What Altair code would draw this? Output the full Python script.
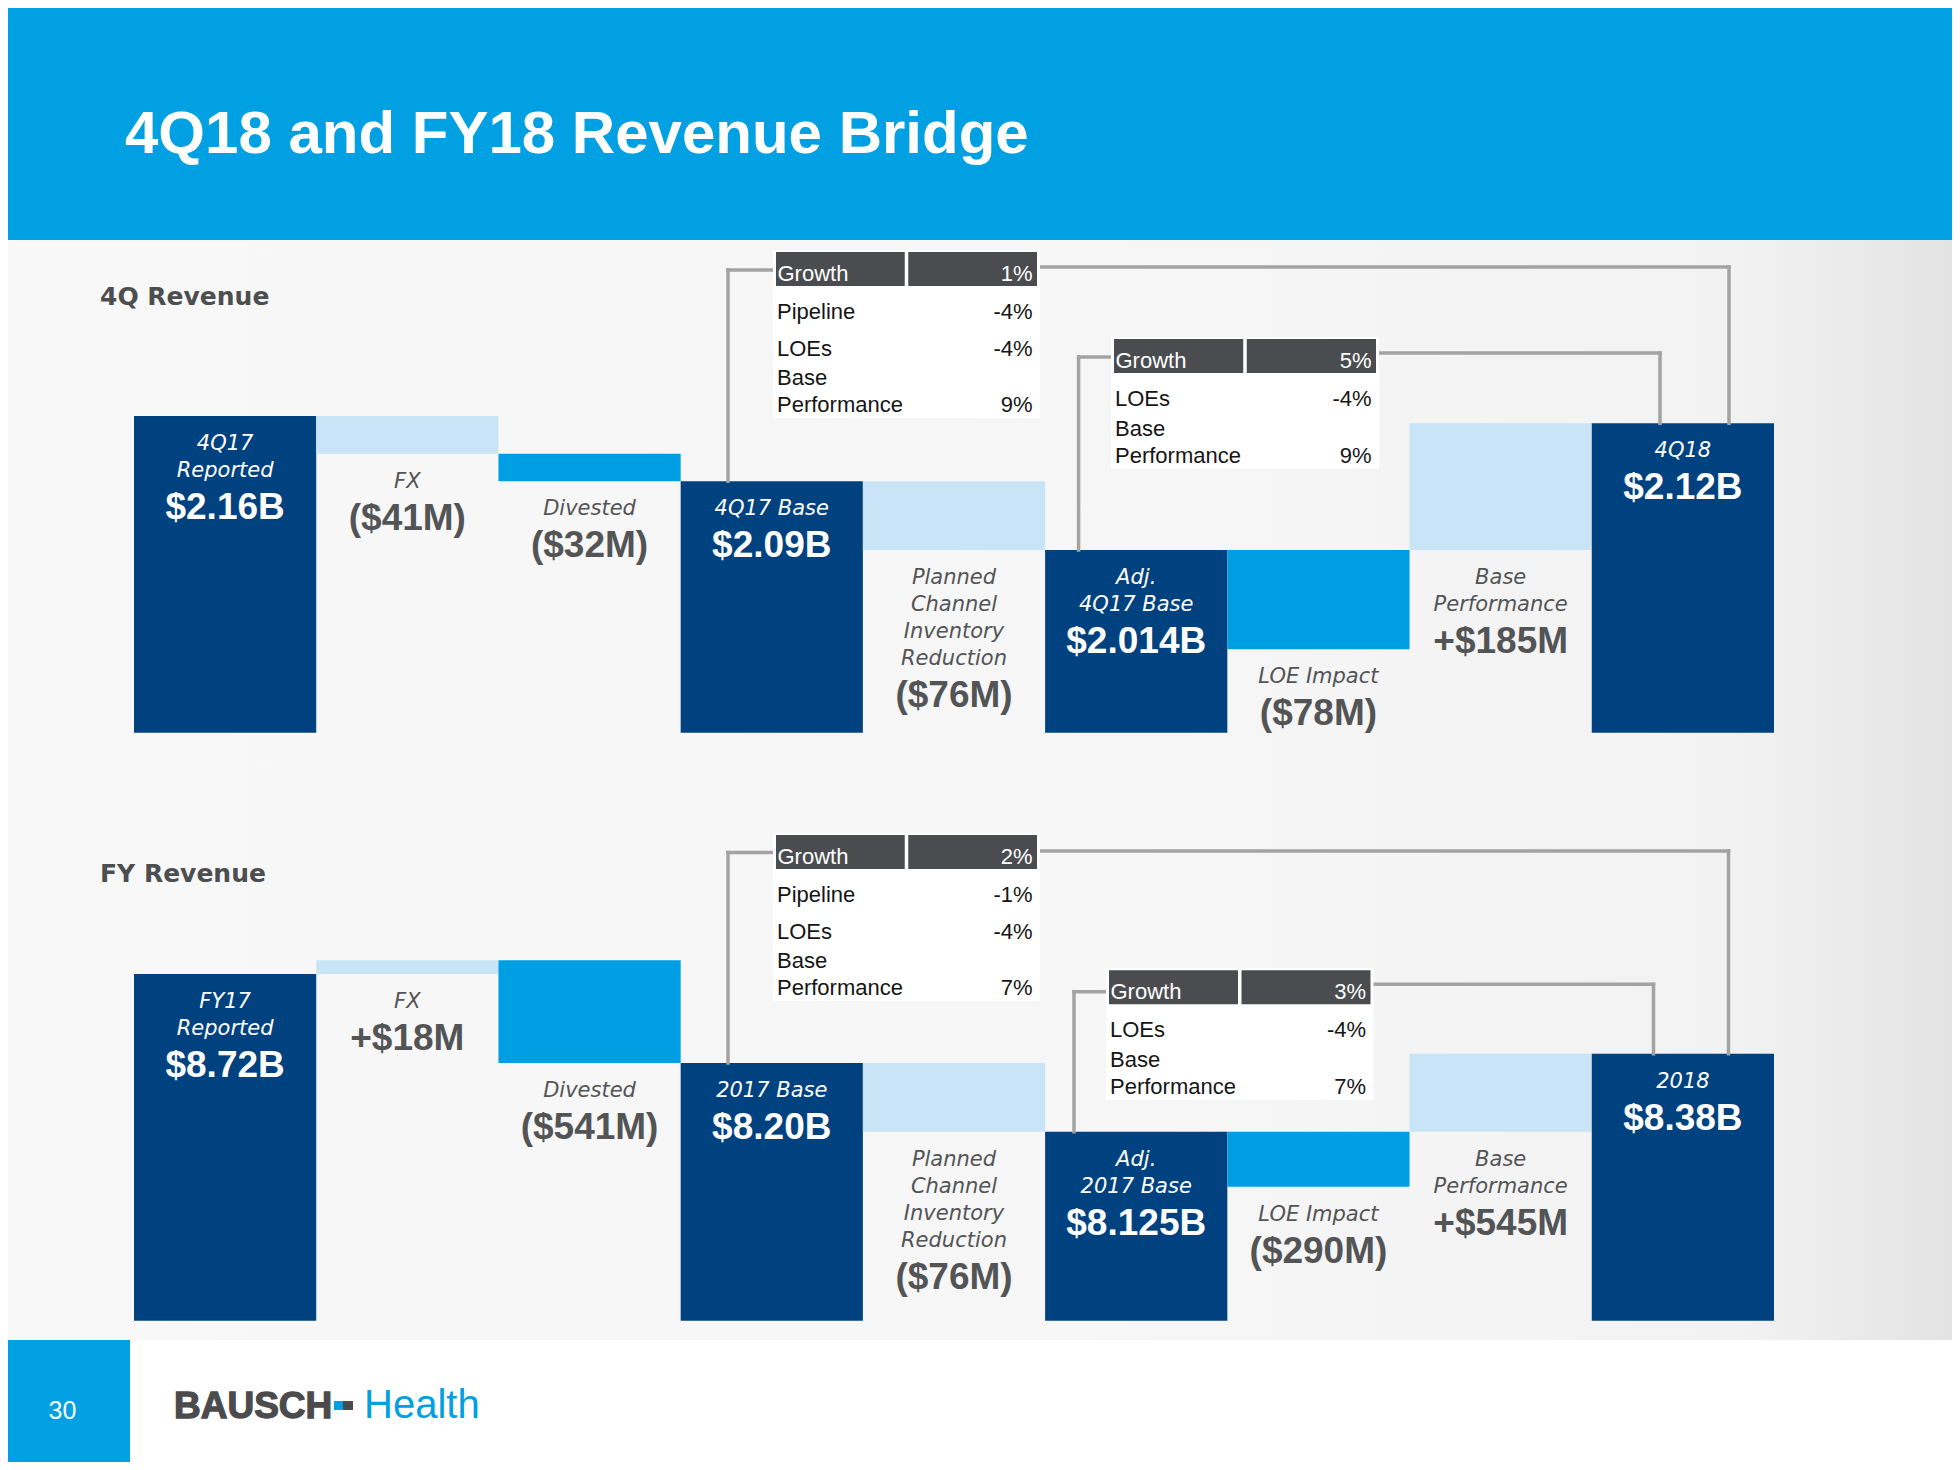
import altair as alt
import pandas as pd

# ---------------- data ----------------
title_text = "4Q18 and FY18 Revenue Bridge"
section_4q = "4Q Revenue"
section_fy = "FY Revenue"
page_number = "30"
logo_left = "BAUSCH"
logo_right = "Health"

q4_categories = ["4Q17 Reported", "FX", "Divested", "4Q17 Base",
                 "Planned Channel Inventory Reduction", "Adj. 4Q17 Base",
                 "LOE Impact", "Base Performance", "4Q18"]
q4_label_lines = ["4Q17\nReported", "FX", "Divested", "4Q17 Base",
                  "Planned\nChannel\nInventory\nReduction", "Adj.\n4Q17 Base",
                  "LOE Impact", "Base\nPerformance", "4Q18"]
q4_value_text = ["$2.16B", "($41M)", "($32M)", "$2.09B", "($76M)",
                 "$2.014B", "($78M)", "+$185M", "$2.12B"]
q4_kind = ["total", "adjustment", "structural", "total", "adjustment",
           "total", "structural", "adjustment", "total"]
# bar levels ($M) as drawn on the slide (the bridge is drawn schematically;
# LOE Impact and Base Performance both start from the adjusted base)
q4_bar_from = [1815, 2160, 2119, 1815, 2089, 1815, 2014, 2014, 1815]
q4_bar_to = [2160, 2119, 2089, 2089, 2014, 2014, 1906, 2152, 2152]
q4_domain = [1815, 2160]

fy_categories = ["FY17 Reported", "FX", "Divested", "2017 Base",
                 "Planned Channel Inventory Reduction", "Adj. 2017 Base",
                 "LOE Impact", "Base Performance", "2018"]
fy_label_lines = ["FY17\nReported", "FX", "Divested", "2017 Base",
                  "Planned\nChannel\nInventory\nReduction", "Adj.\n2017 Base",
                  "LOE Impact", "Base\nPerformance", "2018"]
fy_value_text = ["$8.72B", "+$18M", "($541M)", "$8.20B", "($76M)",
                 "$8.125B", "($290M)", "+$545M", "$8.38B"]
fy_kind = ["total", "adjustment", "structural", "total", "adjustment",
           "total", "structural", "adjustment", "total"]
fy_bar_from = [8342, 8720, 8735, 8342, 8623, 8342, 8548, 8548, 8342]
fy_bar_to = [8720, 8735, 8623, 8623, 8548, 8548, 8488, 8633, 8633]
fy_domain = [8342, 8720]

growth_header = "Growth"
q4_t1_total, q4_t1_rows, q4_t1_vals = "1%", ["Pipeline", "LOEs", "Base\nPerformance"], ["-4%", "-4%", "9%"]
q4_t2_total, q4_t2_rows, q4_t2_vals = "5%", ["LOEs", "Base\nPerformance"], ["-4%", "9%"]
fy_t1_total, fy_t1_rows, fy_t1_vals = "2%", ["Pipeline", "LOEs", "Base\nPerformance"], ["-1%", "-4%", "7%"]
fy_t2_total, fy_t2_rows, fy_t2_vals = "3%", ["LOEs", "Base\nPerformance"], ["-4%", "7%"]

# ---------------- styling / layout ----------------
OFF = 8
W, H = 1944, 1454


def P(v):
    return v - OFF


NAVY = "#00427f"
MID = "#009fe3"
LIGHT = "#c8e4f6"
HEADER_BLUE = "#00a0e3"
CELL = "#4a4c4f"
LINE = "#a3a3a3"
TEXTGRAY = "#535456"
SANS = "Liberation Sans, Arial, sans-serif"
WIDE = "DejaVu Sans, sans-serif"

kind_scale = alt.Scale(domain=["total", "adjustment", "structural"], range=[NAVY, LIGHT, MID])
X_RANGE = [P(134), P(1774)]
Q4_RANGE = [P(732.7), P(416)]
FY_RANGE = [P(1320.7), P(974)]


def ypix(v, dom, rng):
    return rng[0] + (v - dom[0]) / (dom[1] - dom[0]) * (rng[1] - rng[0])


def bridge_layers(cats, lines, vals, kinds, b_from, b_to, dom, rng):
    df = pd.DataFrame({"cat": cats, "label": lines, "value": vals, "kind": kinds,
                       "from": b_from, "to": b_to})
    df["anchor"] = [t if k == "total" else min(f, t) for f, t, k in zip(b_from, b_to, kinds)]
    df["nlines"] = [s.count("\n") + 1 for s in lines]
    xs = alt.Scale(domain=cats, range=X_RANGE, paddingInner=0, paddingOuter=0)
    ys = alt.Scale(domain=dom, range=rng, nice=False, zero=False)
    X = alt.X("cat:N", scale=xs, axis=None)
    tcol = alt.condition(alt.datum.kind == "total", alt.value("#ffffff"), alt.value(TEXTGRAY))
    out = [
        alt.Chart(df).mark_bar().encode(
            x=X, y=alt.Y("from:Q", scale=ys, axis=None), y2="to:Q",
            color=alt.Color("kind:N", scale=kind_scale, legend=None)),
        alt.Chart(df).mark_text(font=WIDE, fontStyle="italic", fontSize=21, baseline="top",
                                dy=17, lineBreak="\n", lineHeight=27, align="center").encode(
            x=X, y=alt.Y("anchor:Q", scale=ys, axis=None), text="label:N", color=tcol),
    ]
    for n in sorted(set(df["nlines"])):
        out.append(
            alt.Chart(df).transform_filter(alt.datum.nlines == int(n)).mark_text(
                font=SANS, fontWeight="bold", fontSize=37, baseline="middle",
                dy=38 + 27 * int(n), align="center").encode(
                x=X, y=alt.Y("anchor:Q", scale=ys, axis=None), text="value:N", color=tcol))
    return out


# tables (annotation boxes)
boxes, cells, hdr_l, hdr_r, row_l, row_r = [], [], [], [], [], []


def add_table(left, right, top, total, labels, values):
    left, right, top = P(left), P(right), P(top)
    mid = (left + right) / 2
    cells.append({"x": left, "x2": mid - 1.75, "y": top, "y2": top + 34})
    cells.append({"x": mid + 1.75, "x2": right, "y": top, "y2": top + 34})
    hdr_l.append({"x": left + 1.5, "y": top + 29, "t": growth_header})
    hdr_r.append({"x": right - 4.5, "y": top + 29, "t": total})
    y = None
    for lab, val in zip(labels, values):
        parts = lab.split("\n")
        for j, part in enumerate(parts):
            if y is None:
                y = top + 67
            elif j == 0:
                y += 36.5 if len(parts) == 1 else 29.5
            else:
                y += 27
            row_l.append({"x": left + 1, "y": y, "t": part})
        row_r.append({"x": right - 4.5, "y": y, "t": val})
    boxes.append({"x": left - 3, "x2": right + 3, "y": top - 2, "y2": y + 6})


add_table(776, 1037, 252, q4_t1_total, q4_t1_rows, q4_t1_vals)
add_table(1114, 1376, 339, q4_t2_total, q4_t2_rows, q4_t2_vals)
add_table(776, 1037, 835, fy_t1_total, fy_t1_rows, fy_t1_vals)
add_table(1109, 1370.5, 970.3, fy_t2_total, fy_t2_rows, fy_t2_vals)

# connector brackets
segs = []


def path(points):
    pts = [(P(a), b) for a, b in points]
    for (x1, y1), (x2, y2) in zip(pts[:-1], pts[1:]):
        segs.append({"x": x1, "y": y1, "x2": x2, "y2": y2})


q = lambda v: ypix(v, q4_domain, Q4_RANGE)
f = lambda v: ypix(v, fy_domain, FY_RANGE)
path([(728, q(q4_bar_to[3])), (728, P(270)), (776, P(270))])
path([(1037, P(267)), (1729, P(267)), (1729, q(q4_bar_to[8]))])
path([(1078.6, q(q4_bar_to[5])), (1078.6, P(357)), (1114, P(357))])
path([(1376, P(353)), (1660, P(353)), (1660, q(q4_bar_to[8]))])
path([(728, f(fy_bar_to[3])), (728, P(852.5)), (776, P(852.5))])
path([(1037, P(851)), (1728.5, P(851)), (1728.5, f(fy_bar_to[8]))])
path([(1074, f(fy_bar_to[5])), (1074, P(991.7)), (1109, P(991.7))])
path([(1370.5, P(984.3)), (1653.5, P(984.3)), (1653.5, f(fy_bar_to[8]))])

one = pd.DataFrame({"t": [""]})
NX = lambda fld: alt.X(fld, scale=None, axis=None)
NY = lambda fld: alt.Y(fld, scale=None, axis=None)

grad = alt.LinearGradient(gradient="linear", x1=0, x2=1, y1=0, y2=0, stops=[
    alt.GradientStop(offset=0, color="#f8f8f8"),
    alt.GradientStop(offset=0.6, color="#f6f6f6"),
    alt.GradientStop(offset=0.89, color="#f2f2f2"),
    alt.GradientStop(offset=1, color="#e3e3e3")])


def rect(x, x2, y, y2, color):
    return alt.Chart(one).mark_rect(color=color).encode(
        x=alt.value(x), x2=alt.value(x2), y=alt.value(y), y2=alt.value(y2))


def label(text, x, y, **kw):
    return alt.Chart(pd.DataFrame({"t": [text]})).mark_text(**kw).encode(
        x=alt.value(x), y=alt.value(y), text="t:N")


layers = [
    rect(0, W, 0, H, grad),
    rect(0, W, 0, P(240), HEADER_BLUE),
    rect(0, W, P(1340), H, "#ffffff"),
    rect(0, P(130), P(1340), H, HEADER_BLUE),
    label(title_text, P(125), P(152.7), font=SANS, fontWeight="bold", fontSize=60,
          color="#ffffff", align="left", baseline="alphabetic"),
    label(section_4q, P(100), P(305), font=WIDE, fontWeight="bold", fontSize=25,
          color="#4d4e50", align="left", baseline="alphabetic"),
    label(section_fy, P(100), P(882.3), font=WIDE, fontWeight="bold", fontSize=25,
          color="#4d4e50", align="left", baseline="alphabetic"),
    label(page_number, P(62.5), P(1419), font=SANS, fontSize=25, color="#ffffff",
          align="center", baseline="alphabetic"),
    label(logo_left, P(174), P(1418.3), font=SANS, fontWeight="bold", fontSize=37,
          color="#4b4b4d", stroke="#4b4b4d", strokeWidth=1.3, align="left",
          baseline="alphabetic"),
    rect(P(334), P(343), P(1401), P(1410), HEADER_BLUE),
    rect(P(343), P(353), P(1401), P(1410), "#4b4b4d"),
    label(logo_right, P(364), P(1418.3), font=SANS, fontSize=40, color=HEADER_BLUE,
          align="left", baseline="alphabetic"),
]

layers += bridge_layers(q4_categories, q4_label_lines, q4_value_text, q4_kind,
                        q4_bar_from, q4_bar_to, q4_domain, Q4_RANGE)
layers += bridge_layers(fy_categories, fy_label_lines, fy_value_text, fy_kind,
                        fy_bar_from, fy_bar_to, fy_domain, FY_RANGE)

layers += [
    alt.Chart(pd.DataFrame(segs)).mark_rule(color=LINE, strokeWidth=3.5, strokeCap="square").encode(
        x=NX("x:Q"), y=NY("y:Q"), x2="x2:Q", y2="y2:Q"),
    alt.Chart(pd.DataFrame(boxes)).mark_rect(color="#ffffff").encode(
        x=NX("x:Q"), x2="x2:Q", y=NY("y:Q"), y2="y2:Q"),
    alt.Chart(pd.DataFrame(cells)).mark_rect(color=CELL).encode(
        x=NX("x:Q"), x2="x2:Q", y=NY("y:Q"), y2="y2:Q"),
    alt.Chart(pd.DataFrame(hdr_l)).mark_text(font=SANS, fontSize=22, color="#ffffff",
                                             align="left", baseline="alphabetic").encode(
        x=NX("x:Q"), y=NY("y:Q"), text="t:N"),
    alt.Chart(pd.DataFrame(hdr_r)).mark_text(font=SANS, fontSize=22, color="#ffffff",
                                             align="right", baseline="alphabetic").encode(
        x=NX("x:Q"), y=NY("y:Q"), text="t:N"),
    alt.Chart(pd.DataFrame(row_l)).mark_text(font=SANS, fontSize=22, color="#151515",
                                             align="left", baseline="alphabetic").encode(
        x=NX("x:Q"), y=NY("y:Q"), text="t:N"),
    alt.Chart(pd.DataFrame(row_r)).mark_text(font=SANS, fontSize=22, color="#151515",
                                             align="right", baseline="alphabetic").encode(
        x=NX("x:Q"), y=NY("y:Q"), text="t:N"),
]

chart = alt.layer(*layers).resolve_scale(
    x="independent", y="independent", color="independent"
).properties(
    width=W, height=H, padding=0, autosize=alt.AutoSizeParams(type="none")
).configure_view(strokeWidth=0)

chart.save("out.html", embed_options={"renderer": "svg", "actions": False})
